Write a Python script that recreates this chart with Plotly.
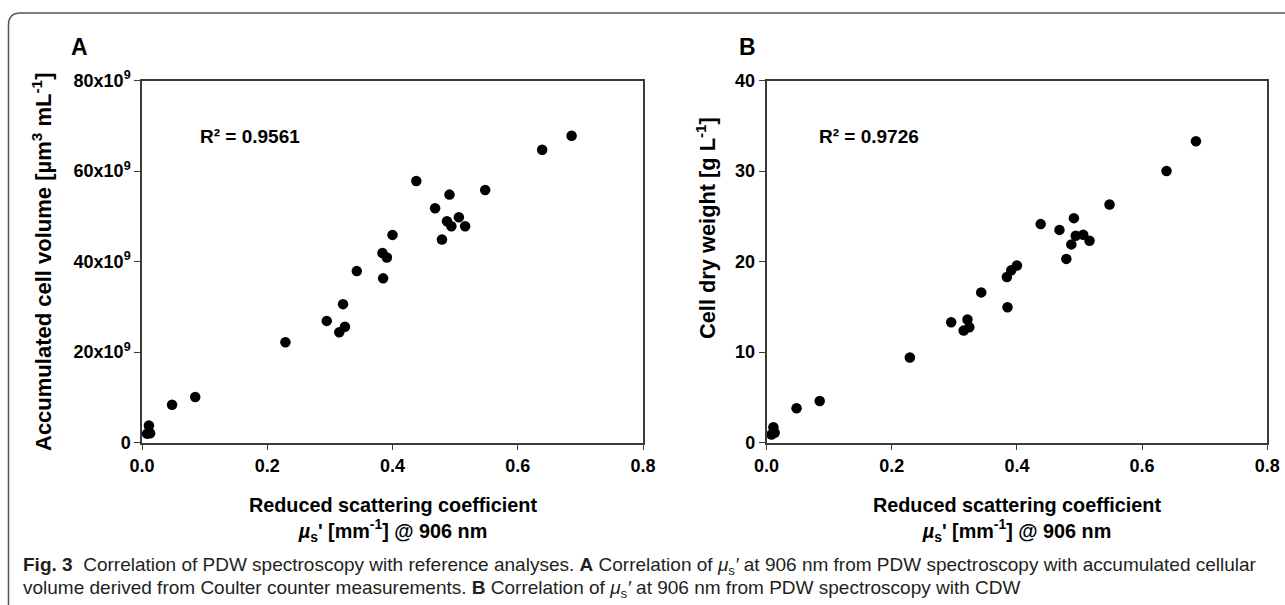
import plotly.graph_objects as go

W, H = 1285, 605
OFF = 0  # body margin is removed by the post_script below

# Reduced scattering coefficient mu_s' [mm^-1] @ 906 nm (shared by both panels)
mus = [0.008, 0.011, 0.013, 0.048, 0.085, 0.229, 0.295, 0.315, 0.321, 0.324,
       0.343, 0.384, 0.385, 0.391, 0.400, 0.438, 0.468, 0.479, 0.487, 0.491,
       0.494, 0.506, 0.516, 0.548, 0.639, 0.686]
# Panel A: accumulated cell volume, in units of 10^9 um^3 mL^-1
acv_1e9 = [2.0, 3.8, 2.1, 8.4, 10.1, 22.2, 26.9, 24.4, 30.6, 25.6,
           37.9, 41.9, 36.3, 40.9, 45.9, 57.8, 51.8, 44.9, 48.9, 54.8,
           47.8, 49.8, 47.8, 55.8, 64.7, 67.8]
# Panel B: cell dry weight [g L^-1]
cdw = [0.9, 1.7, 1.1, 3.8, 4.6, 9.4, 13.3, 12.4, 13.6, 12.75,
       16.6, 18.3, 14.95, 19.05, 19.56, 24.14, 23.5, 20.3, 21.9, 24.8,
       22.86, 22.97, 22.3, 26.3, 30.0, 33.3]

x_ticks = [0.0, 0.2, 0.4, 0.6, 0.8]
x_ticktext = ["0.0", "0.2", "0.4", "0.6", "0.8"]
a_ticks = [0, 20, 40, 60, 80]
a_ticktext = ["0", "20x10<sup>9</sup>", "40x10<sup>9</sup>", "60x10<sup>9</sup>", "80x10<sup>9</sup>"]
b_ticks = [0, 10, 20, 30, 40]
b_ticktext = ["0", "10", "20", "30", "40"]
r2_a = "R² = 0.9561"
r2_b = "R² = 0.9726"

FONT = "Liberation Sans, Arial, sans-serif"
CAP_FONT = "Liberation Sans Narrow, Liberation Sans, Arial, sans-serif"


def px(x):
    return (x - OFF) / W


def py(y):
    return 1 - (y - OFF) / H


fig = go.Figure()
marker = dict(color="black", size=10.5)
fig.add_trace(go.Scatter(x=mus, y=acv_1e9, mode="markers", marker=marker,
                         xaxis="x", yaxis="y", cliponaxis=False, showlegend=False))
fig.add_trace(go.Scatter(x=mus, y=cdw, mode="markers", marker=marker,
                         xaxis="x2", yaxis="y2", cliponaxis=False, showlegend=False))

axis_common = dict(showline=True, mirror=True, linecolor="#3a3a3a", linewidth=1.5,
                   ticks="outside", ticklen=6, tickwidth=1.3, tickcolor="#3a3a3a",
                   showgrid=False, zeroline=False, automargin=False,
                   tickfont=dict(family=FONT, size=18, color="black", weight="bold"))

top_px, bot_px = 80.5, 442.7
ydom = [py(bot_px), py(top_px)]

fig.update_layout(
    width=W, height=H,
    margin=dict(l=0, r=0, t=0, b=0, autoexpand=False),
    paper_bgcolor="white", plot_bgcolor="white",
    xaxis=dict(domain=[px(142), px(643)], range=[0, 0.8], tickvals=x_ticks,
               ticktext=x_ticktext, anchor="y", **axis_common),
    yaxis=dict(domain=ydom, range=[0, 80], tickvals=a_ticks, ticktext=a_ticktext,
               anchor="x", **axis_common),
    xaxis2=dict(domain=[px(766.5), px(1267.3)], range=[0, 0.8], tickvals=x_ticks,
                ticktext=x_ticktext, anchor="y2", **axis_common),
    yaxis2=dict(domain=ydom, range=[0, 40], tickvals=b_ticks, ticktext=b_ticktext,
                anchor="x2", **axis_common),
)

ann = []


def add(text, x, y, size, xanchor="center", yanchor="middle", angle=0, family=FONT,
        color="black", weight="bold"):
    ann.append(dict(text=text, x=px(x), y=py(y), xref="paper", yref="paper",
                    xanchor=xanchor, yanchor=yanchor, textangle=angle, showarrow=False,
                    font=dict(family=family, size=size, color=color, weight=weight)))


# panel letters
add("A", 79, 47, 23)
add("B", 747, 47, 23)
# R^2
add(r2_a, 198, 136, 19, xanchor="left")
add(r2_b, 817, 136, 19, xanchor="left")
# y titles
add("Accumulated cell volume [µm<sup>3</sup> mL<sup>-1</sup>]", 42, 262, 22, angle=-90)
add("Cell dry weight [g L<sup>-1</sup>]", 706, 228, 21.8, angle=-90)
# x titles
xt = "Reduced scattering coefficient<br><i>µ</i><sub>s</sub>' [mm<sup>-1</sup>] @ 906 nm"
for cx in (392.5, 1017):
    add(xt, cx, 519, 19.8)
# caption
cap_color = "#231f20"
cap1 = ("<b>Fig. 3</b>  Correlation of PDW spectroscopy with reference analyses. <b>A</b> Correlation of "
        "<i>μ</i><sub>s</sub><i>′</i> at 906 nm from PDW spectroscopy with accumulated cellular")
cap2 = ("volume derived from Coulter counter measurements. <b>B</b> Correlation of "
        "<i>μ</i><sub>s</sub><i>′</i> at 906 nm from PDW spectroscopy with CDW")
add(cap1, 21, 566, 19.0, xanchor="left", family=CAP_FONT, color=cap_color, weight="normal")
add(cap2, 21, 589, 19.0, xanchor="left", family=CAP_FONT, color=cap_color, weight="normal")
fig.update_layout(annotations=ann)

# outer rounded border (top-left corner rounded, continues past right and bottom)
r = 12
path = (f"M {px(8.5)},{py(640)} L {px(8.5)},{py(13 + r)} "
        f"Q {px(8.5)},{py(13)} {px(8.5 + r)},{py(13)} L {px(1320)},{py(13)}")
fig.add_shape(type="path", path=path, xref="paper", yref="paper",
              line=dict(color="#555555", width=1.5))

fig.write_html("out.html",
               config={"displayModeBar": False},
               post_script="document.body.style.margin='0';document.body.style.overflow='hidden';")
